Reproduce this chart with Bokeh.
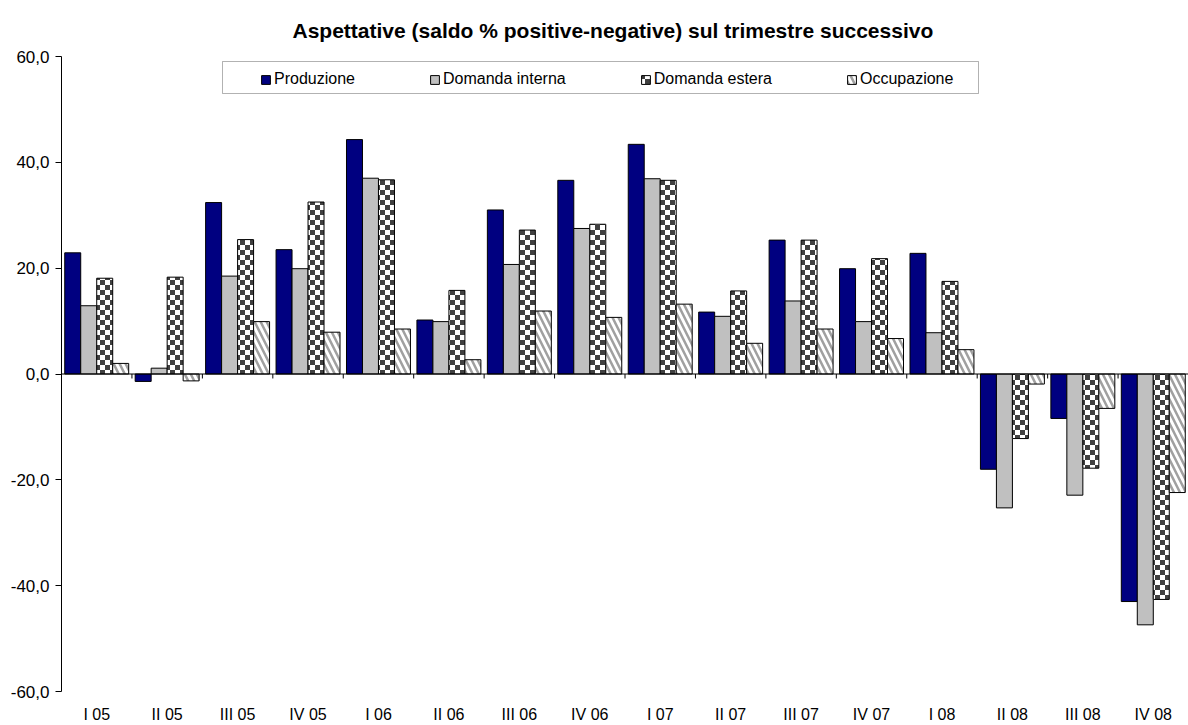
import base64
import struct
import zlib

from bokeh.core.properties import value
from bokeh.embed import file_html
from bokeh.models import (BoxAnnotation, CustomJSTickFormatter, FixedTicker,
                          ImageURLTexture, Legend, LegendItem, Span)
from bokeh.plotting import figure
from bokeh.resources import INLINE

# ---- data -------------------------------------------------------------
quarters = ["I 05", "II 05", "III 05", "IV 05", "I 06", "II 06", "III 06", "IV 06",
            "I 07", "II 07", "III 07", "IV 07", "I 08", "II 08", "III 08", "IV 08"]
produzione = [22.9, -1.4, 32.4, 23.5, 44.3, 10.2, 31.0, 36.6,
              43.4, 11.7, 25.3, 19.9, 22.8, -18.0, -8.4, -43.0]
domanda_interna = [12.9, 1.1, 18.5, 19.9, 37.0, 9.9, 20.7, 27.5,
                   36.9, 10.9, 13.8, 9.9, 7.8, -25.3, -22.9, -47.4]
domanda_estera = [18.1, 18.3, 25.4, 32.5, 36.7, 15.8, 27.2, 28.3,
                  36.6, 15.7, 25.3, 21.8, 17.5, -12.2, -17.8, -42.6]
occupazione = [2.0, -1.3, 9.9, 7.9, 8.5, 2.7, 11.9, 10.7,
               13.2, 5.8, 8.5, 6.7, 4.6, -1.9, -6.5, -22.4]
series_names = ["Produzione", "Domanda interna", "Domanda estera", "Occupazione"]
y_ticks = [-60, -40, -20, 0, 20, 40, 60]
title_text = "Aspettative (saldo % positive-negative) sul trimestre successivo"

FONT = "Liberation Sans"


def png_data_url(rows):
    """Encode a small RGB pixel grid as a PNG data URL (used as a fill texture)."""
    h, w = len(rows), len(rows[0])
    raw = b"".join(b"\x00" + bytes(c for px in row for c in px) for row in rows)

    def chunk(tag, data):
        return (struct.pack(">I", len(data)) + tag + data
                + struct.pack(">I", zlib.crc32(tag + data) & 0xFFFFFFFF))

    png = (b"\x89PNG\r\n\x1a\n"
           + chunk(b"IHDR", struct.pack(">IIBBBBB", w, h, 8, 2, 0, 0, 0))
           + chunk(b"IDAT", zlib.compress(raw))
           + chunk(b"IEND", b""))
    return "data:image/png;base64," + base64.b64encode(png).decode()


# checkerboard tile: 5px dark squares alternating with white
cell = 5
dark, light = (64, 64, 64), (255, 255, 255)
checker_rows = [[dark if ((r // cell) + (c // cell)) % 2 == 0 else light
                 for c in range(2 * cell)] for r in range(2 * cell)]
checker = ImageURLTexture(url=png_data_url(checker_rows), repetition="repeat")

n = len(quarters)
bar_w = 0.227
offsets = [-1.5 * bar_w, -0.5 * bar_w, 0.5 * bar_w, 1.5 * bar_w]

p = figure(width=1188, height=725, x_range=(0, n), y_range=(-60, 60),
           output_backend="svg", toolbar_location=None,
           min_border_left=61, min_border_right=0,
           min_border_top=56, min_border_bottom=34)
p.outline_line_color = None
p.xgrid.visible = False
p.ygrid.visible = False
p.background_fill_color = "white"
p.border_fill_color = "white"

p.title.text = title_text
p.title.align = "left"
p.title.offset = 231
p.title.text_font = FONT
p.title.text_font_size = "21px"
p.title.text_font_style = "bold"
p.title.text_color = "black"
p.title.standoff = 30

common = dict(width=bar_w, bottom=0, line_color="black", line_width=1)

def xs(k):
    return [i + 0.5 + offsets[k] for i in range(n)]

r_prod = p.vbar(x=xs(0), top=produzione, fill_color="#000080", **common)
r_int = p.vbar(x=xs(1), top=domanda_interna, fill_color="#C0C0C0", **common)
r_est = p.vbar(x=xs(2), top=domanda_estera, fill_color="white",
               hatch_pattern=value("checker"), hatch_extra={"checker": checker},
               **common)
r_occ = p.vbar(x=xs(3), top=occupazione, fill_color="white",
               hatch_pattern="\\", hatch_color="#a0a0a0", hatch_weight=2.5,
               hatch_scale=12, **common)

# zero line with small category-boundary ticks
p.add_layout(Span(location=0, dimension="width", line_color="black", line_width=1))
bounds = list(range(1, n + 1))
p.segment(x0=bounds, y0=[0] * n, x1=bounds, y1=[-0.85] * n,
          line_color="black", line_width=1)

# y axis
p.yaxis.ticker = FixedTicker(ticks=y_ticks)
p.yaxis.formatter = CustomJSTickFormatter(code="return tick.toFixed(1).replace('.', ',');")
p.yaxis.axis_line_color = "black"
p.yaxis.major_tick_line_color = "black"
p.yaxis.major_tick_out = 6
p.yaxis.major_tick_in = 0
p.yaxis.minor_tick_line_color = None
p.yaxis.major_label_standoff = 6
p.yaxis.major_label_text_font = FONT
p.yaxis.major_label_text_font_size = "17px"
p.yaxis.major_label_text_color = "black"

# x axis: labels only
p.xaxis.ticker = FixedTicker(ticks=[i + 0.5 for i in range(n)])
p.xaxis.formatter = CustomJSTickFormatter(args=dict(labels=quarters),
                                          code="return labels[Math.floor(tick)];")
p.xaxis.axis_line_color = None
p.xaxis.major_tick_line_color = None
p.xaxis.minor_tick_line_color = None
p.xaxis.major_label_standoff = 8
p.xaxis.major_label_text_font = FONT
p.xaxis.major_label_text_font_size = "16px"
p.xaxis.major_label_text_color = "black"

# legend frame and legend
p.add_layout(BoxAnnotation(left=222, right=978, top=61, bottom=93,
                           left_units="canvas", right_units="canvas",
                           top_units="canvas", bottom_units="canvas",
                           fill_color="white", fill_alpha=1,
                           line_color="black", line_width=1, level="overlay"))

legend = Legend(items=[LegendItem(label=nm, renderers=[r])
                       for nm, r in zip(series_names, [r_prod, r_int, r_est, r_occ])],
                orientation="horizontal", location=(199, 603),
                glyph_width=11, glyph_height=11, label_standoff=3,
                spacing=74, padding=6, margin=0, label_height=18,
                label_text_font=FONT, label_text_font_size="16px",
                label_text_color="black",
                border_line_color=None, background_fill_alpha=0)
p.add_layout(legend)

open("out.html", "w").write(file_html(p, INLINE))
